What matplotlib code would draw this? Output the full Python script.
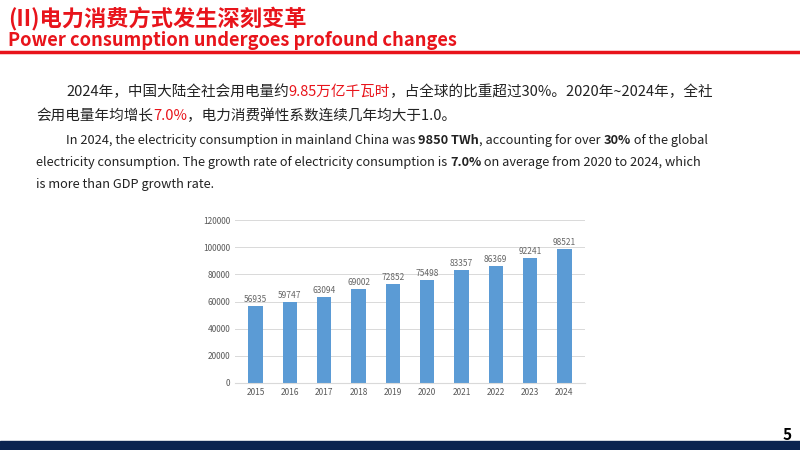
import matplotlib
matplotlib.use('Agg')
import matplotlib.pyplot as plt

years = ['2015', '2016', '2017', '2018', '2019', '2020', '2021', '2022', '2023', '2024']
consumption = [56935, 59747, 63094, 69002, 72852, 75498, 83357, 86369, 92241, 98521]

plt.rcParams['font.family'] = ['Noto Sans CJK SC', 'DejaVu Sans']

W, H = 800, 450
fig = plt.figure(figsize=(8, 4.5), dpi=100)
RED = '#e8141b'


def draw_pieces(x, y, pieces, size):
    # pieces: list of (text, color, bold); x, y in pixels from top-left
    r = fig.canvas.get_renderer()
    for s, c, b in pieces:
        t = fig.text(x / W, 1 - y / H, s, color=c, fontsize=size,
                     fontweight='bold' if b else 'normal', va='baseline')
        x += t.get_window_extent(renderer=r).width


fig.text(8 / W, 1 - 26 / H, '(II)电力消费方式发生深刻变革', color=RED,
         fontsize=16, fontweight='bold', va='baseline')
fig.text(8 / W, 1 - 46 / H, 'Power consumption undergoes profound changes', color=RED,
         fontsize=13.2, fontweight='bold', va='baseline')
fig.add_artist(plt.Line2D([0, 1], [1 - 51.5 / H] * 2, color=RED, lw=2.5))
fig.add_artist(plt.Rectangle((0, 0), 1, 9 / H, color='#0b2450'))
fig.text(792 / W, 1 - 440 / H, '5', fontsize=11, fontweight='bold', ha='right', va='baseline')

K = '#222222'
draw_pieces(66, 96, [('2024年，中国大陆全社会用电量约', K, False), ('9.85万亿千瓦时', RED, False),
                     ('，占全球的比重超过30%。2020年~2024年，全社', K, False)], 10.5)
draw_pieces(36, 120, [('会用电量年均增长', K, False), ('7.0%', RED, False),
                      ('，电力消费弹性系数连续几年均大于1.0。', K, False)], 10.5)
draw_pieces(66, 144, [('In 2024, the electricity consumption in mainland China was ', K, False),
                      ('9850 TWh', K, True), (', accounting for over ', K, False), ('30%', K, True),
                      (' of the global', K, False)], 9.2)
draw_pieces(36, 166, [('electricity consumption. The growth rate of electricity consumption is ', K, False),
                      ('7.0%', K, True), (' on average from 2020 to 2024, which', K, False)], 9.2)
draw_pieces(36, 188, [('is more than GDP growth rate.', K, False)], 9.2)

ax = fig.add_axes([235 / W, 1 - 383 / H, 350 / W, 163 / H])
bars = ax.bar(range(len(years)), consumption, width=0.42, color='#5b9bd5')
for i, v in enumerate(consumption):
    ax.text(i, v + 1500, str(v), ha='center', va='bottom', fontsize=6, color='#666666')
ax.set_xticks(range(len(years)))
ax.set_xticklabels(years, fontsize=6, color='#595959')
ax.set_ylim(0, 120000)
ax.set_yticks(range(0, 120001, 20000))
ax.tick_params(axis='y', labelsize=6, labelcolor='#595959', length=0)
ax.tick_params(axis='x', length=0)
ax.set_xlim(-0.6, 9.6)
ax.grid(axis='y', color='#d9d9d9', lw=0.7)
ax.set_axisbelow(True)
for sp in ['top', 'right', 'left']:
    ax.spines[sp].set_visible(False)
ax.spines['bottom'].set_color('#d9d9d9')

fig.savefig('out.png', dpi=100)
